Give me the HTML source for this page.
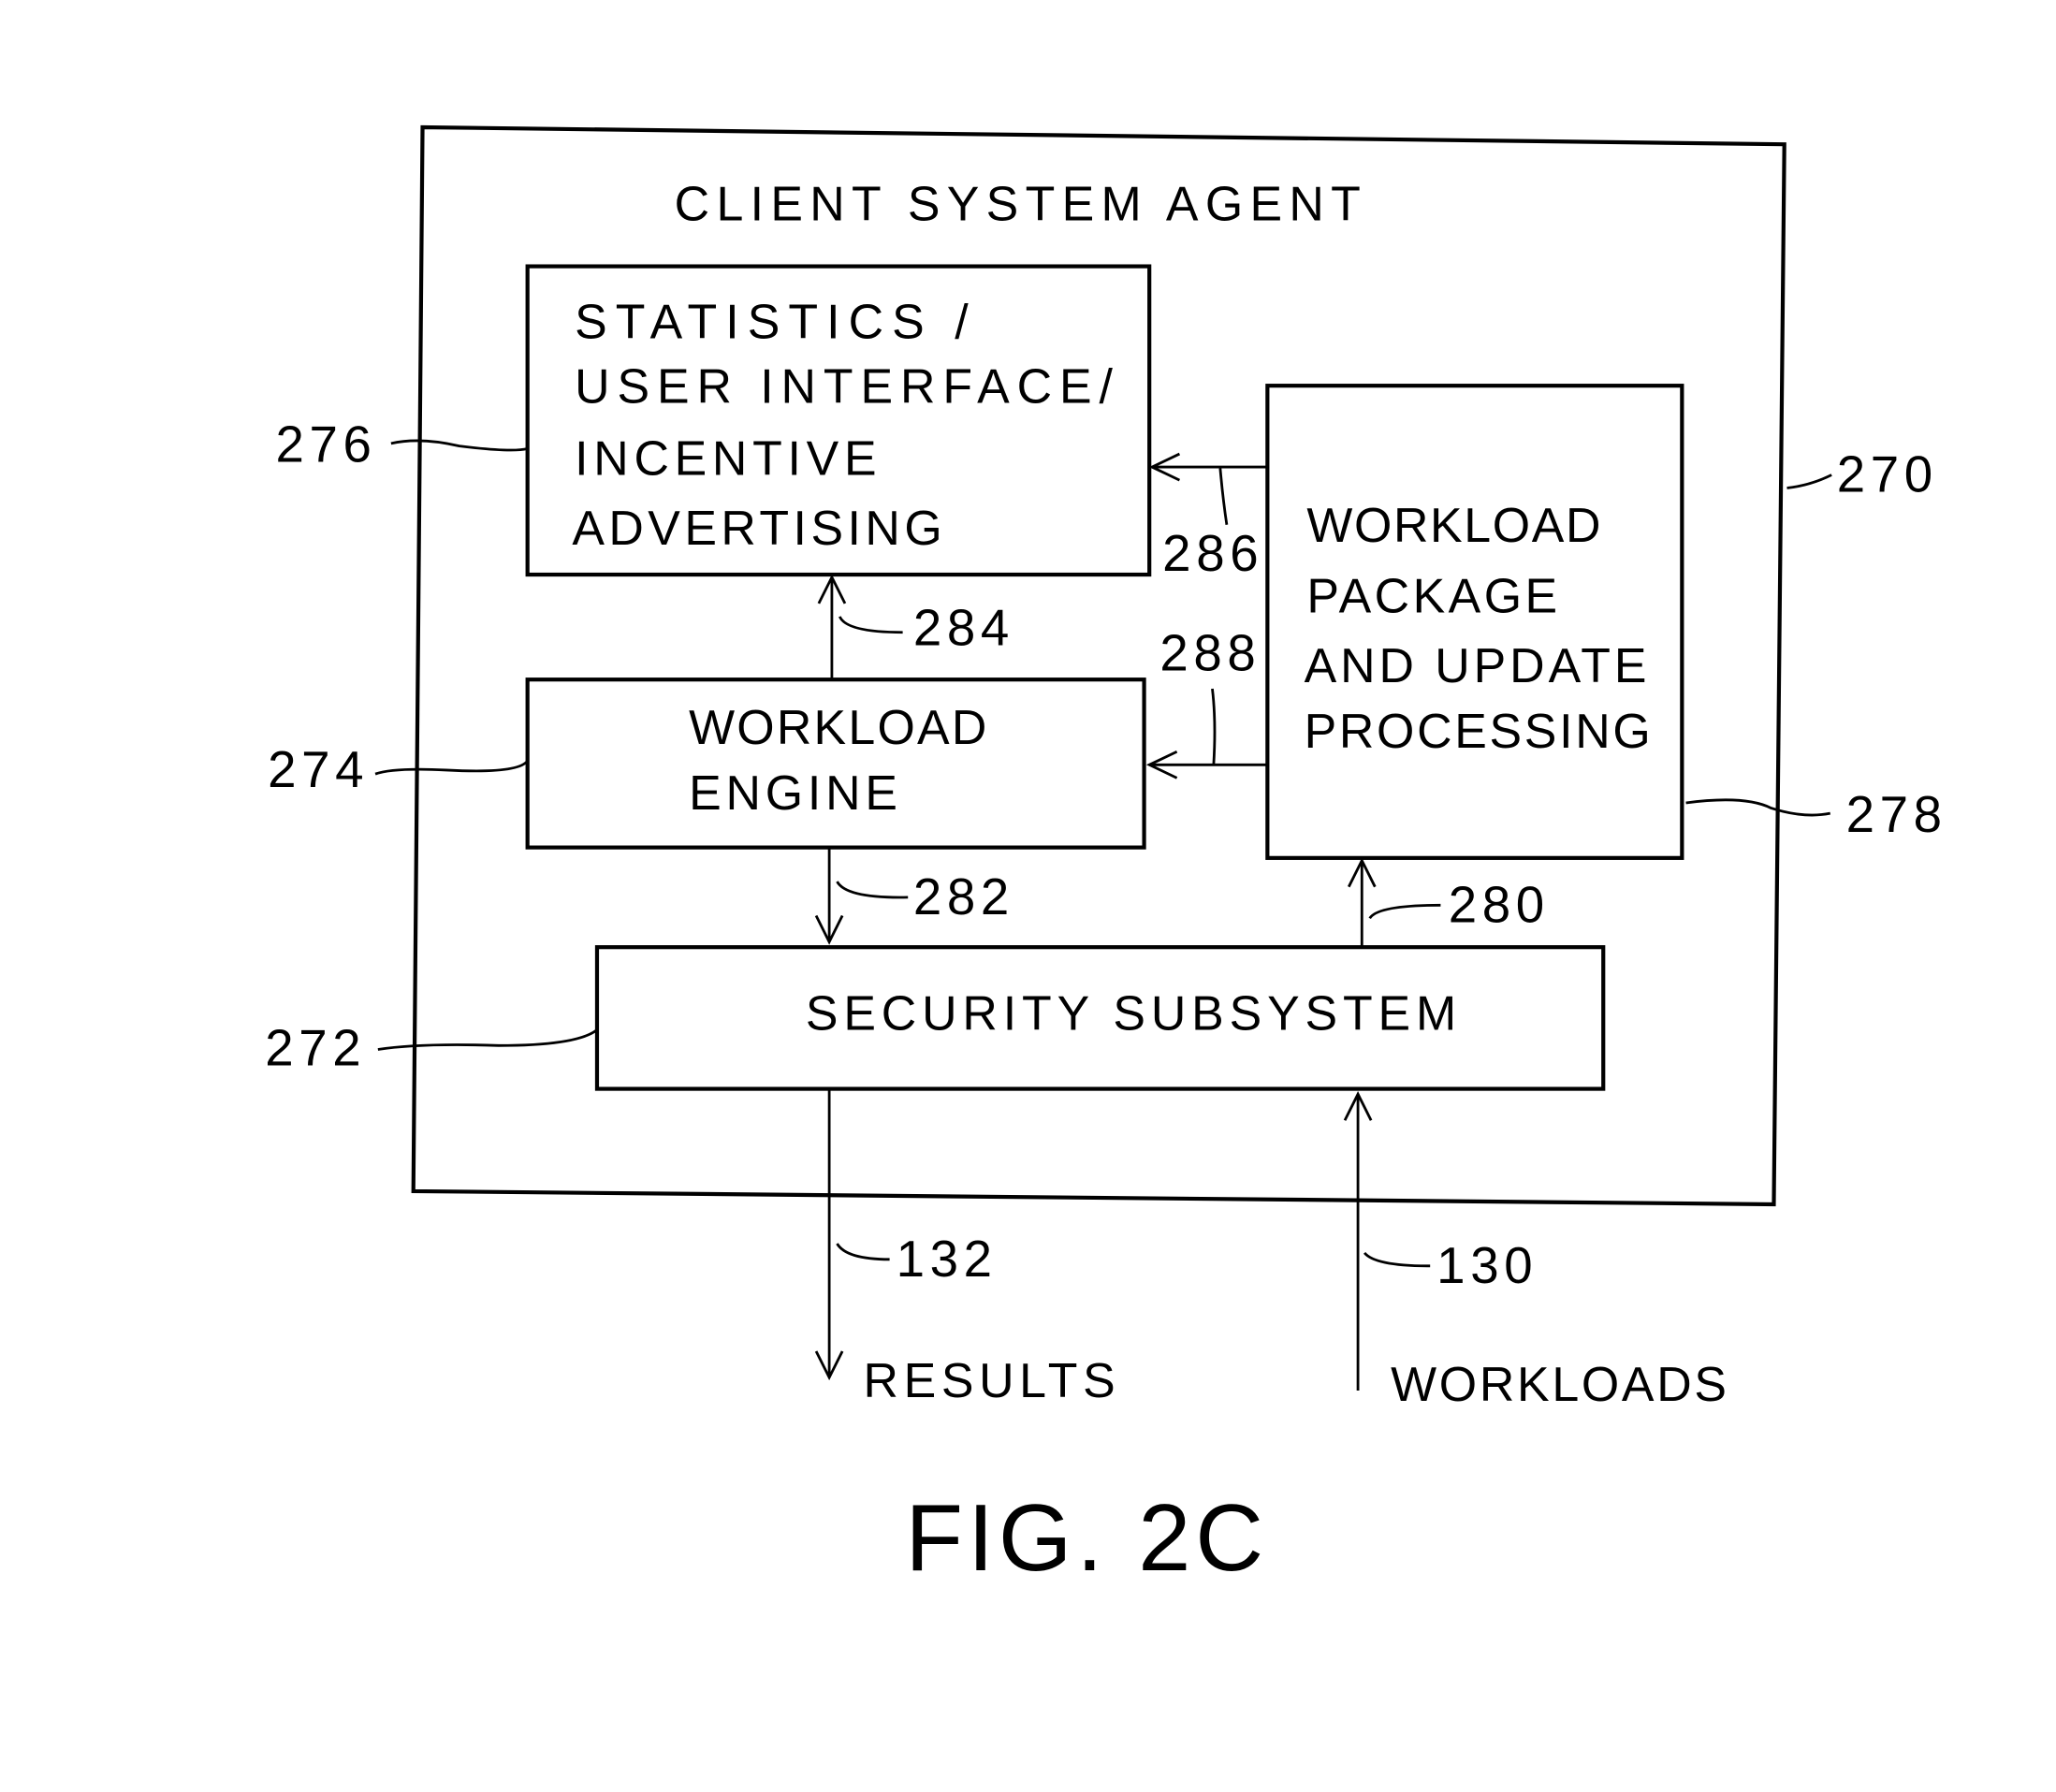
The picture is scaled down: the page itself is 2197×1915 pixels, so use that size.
<!DOCTYPE html>
<html><head><meta charset="utf-8"><style>
html,body{margin:0;padding:0;background:#fff;}
svg{display:block;}
text{font-family:"Liberation Sans",sans-serif;fill:#000;}
</style></head><body>
<svg width="2197" height="1915" viewBox="0 0 1567 1366" xmlns="http://www.w3.org/2000/svg">
<g fill="none" stroke="#000" stroke-width="3">
<polygon points="322,97 1360,110 1352,918 315,908"/>
<rect x="402" y="203" width="474" height="235"/>
<rect x="402" y="518" width="470" height="128"/>
<rect x="966" y="294" width="316" height="360"/>
<rect x="455" y="722" width="767" height="108"/>
</g>
<g fill="none" stroke="#000" stroke-width="2">
<line x1="634" y1="518" x2="634" y2="440"/><polyline points="624,460 634,440 644,460"/>
<path d="M640,470 Q645,482 688,482"/>
<line x1="966" y1="356" x2="878" y2="356"/><polyline points="899,346 878,356 899,366"/>
<path d="M930,357 Q932,380 935,400"/>
<line x1="966" y1="583" x2="876" y2="583"/><polyline points="897,573 876,583 897,593"/>
<path d="M925,583 Q927,550 924,525"/>
<line x1="632" y1="646" x2="632" y2="718"/><polyline points="622,698 632,718 642,698"/>
<path d="M638,672 Q645,685 692,684"/>
<line x1="1038" y1="722" x2="1038" y2="656"/><polyline points="1028,676 1038,656 1048,676"/>
<path d="M1044,700 Q1050,690 1098,690"/>
<line x1="632" y1="830" x2="632" y2="1050"/><polyline points="622,1030 632,1050 642,1030"/>
<path d="M638,948 Q645,960 678,960"/>
<line x1="1035" y1="1060" x2="1035" y2="834"/><polyline points="1025,854 1035,834 1045,854"/>
<path d="M1040,955 Q1048,965 1090,965"/>
<path d="M298,338 Q320,333 350,340 Q390,345 402,342"/>
<path d="M286,590 Q300,585 340,587 Q395,590 402,580"/>
<path d="M288,800 Q320,795 380,797 Q440,797 455,785"/>
<path d="M1362,372 Q1380,370 1396,362"/>
<path d="M1285,612 Q1330,606 1350,616 Q1375,624 1395,620"/>
</g>
<g font-size="37">
<text x="514" y="168" textLength="523" lengthAdjust="spacing">CLIENT  SYSTEM AGENT</text>
<text x="438" y="258" textLength="300" lengthAdjust="spacing">STATISTICS /</text>
<text x="438" y="307" textLength="410" lengthAdjust="spacing">USER  INTERFACE/</text>
<text x="438" y="362" textLength="230" lengthAdjust="spacing">INCENTIVE</text>
<text x="436" y="415" textLength="282" lengthAdjust="spacing">ADVERTISING</text>
<text x="525" y="567" textLength="227" lengthAdjust="spacing">WORKLOAD</text>
<text x="525" y="617" textLength="159" lengthAdjust="spacing">ENGINE</text>
<text x="996" y="413" textLength="224" lengthAdjust="spacing">WORKLOAD</text>
<text x="996" y="467" textLength="191" lengthAdjust="spacing">PACKAGE</text>
<text x="994" y="520" textLength="261" lengthAdjust="spacing">AND UPDATE</text>
<text x="994" y="570" textLength="264" lengthAdjust="spacing">PROCESSING</text>
<text x="614" y="785" textLength="496" lengthAdjust="spacing">SECURITY  SUBSYSTEM</text>
<text x="658" y="1065" textLength="192" lengthAdjust="spacing">RESULTS</text>
<text x="1060" y="1068" textLength="256" lengthAdjust="spacing">WORKLOADS</text>
</g>
<g font-size="39" letter-spacing="4">
<text x="210" y="352">276</text>
<text x="204" y="600">274</text>
<text x="202" y="812">272</text>
<text x="1400" y="375">270</text>
<text x="1407" y="634">278</text>
<text x="696" y="492">284</text>
<text x="886" y="435">286</text>
<text x="884" y="511">288</text>
<text x="696" y="697">282</text>
<text x="1104" y="703">280</text>
<text x="683" y="973">132</text>
<text x="1095" y="978">130</text>
</g>
<text x="690" y="1197" font-size="72" textLength="273" lengthAdjust="spacing">FIG.  2C</text>
</svg>
</body></html>
